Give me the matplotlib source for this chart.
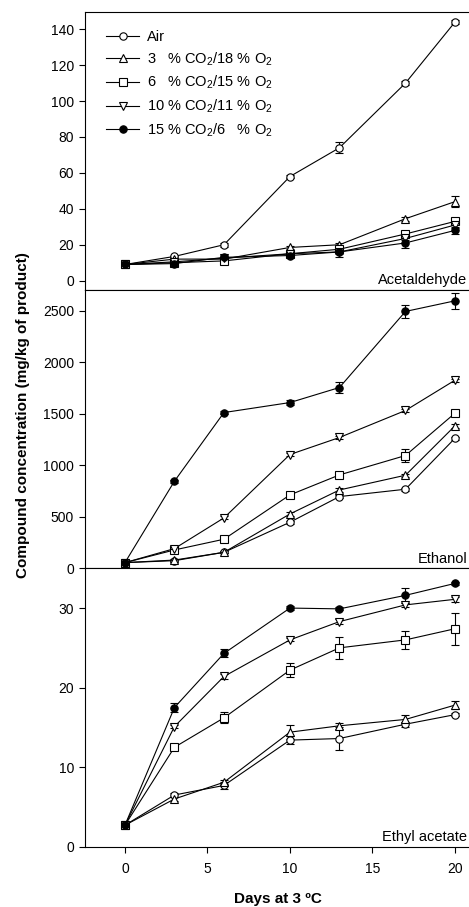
import numpy as np
import matplotlib.pyplot as plt

plt.rcParams['font.family'] = ['Liberation Sans', 'DejaVu Sans']
plt.rcParams['mathtext.fontset'] = 'custom'
plt.rcParams['mathtext.rm'] = 'Liberation Sans'
plt.rcParams['mathtext.it'] = 'Liberation Sans'

days = [0, 3, 6, 10, 13, 17, 20]
labels = ["Air",
          "3   % CO$_2$/18 % O$_2$",
          "6   % CO$_2$/15 % O$_2$",
          "10 % CO$_2$/11 % O$_2$",
          "15 % CO$_2$/6   % O$_2$"]
markers = ['o', '^', 's', 'v', 'o']
faces = ['white', 'white', 'white', 'white', 'black']

# acetaldehyde
acet = [[9, 13.5, 20, 58, 74, 110, 144],
        [9, 12, 12, 18.5, 20, 34.5, 44],
        [9, 10, 11, 15, 17.5, 26, 33],
        [9, 10.5, 12.5, 15, 16, 23.5, 31],
        [9, 9.5, 13, 14, 16, 21, 28]]
acet_err = [[0.5, 0.5, 1, 1, 3, 1, 1],
            [0.5, 0.5, 0.5, 1, 1, 1, 3],
            [0.5, 0.5, 0.5, 1, 1, 1, 1.5],
            [0.5, 0.5, 0.5, 1, 1, 1, 1.5],
            [0.5, 0.5, 0.5, 1, 3, 3, 2]]

# ethanol
etoh = [[55, 74, 155, 447, 696, 767, 1262],
        [55, 80, 155, 527, 760, 903, 1382],
        [55, 178, 282, 712, 906, 1094, 1505],
        [55, 191, 489, 1104, 1269, 1531, 1825],
        [55, 845, 1511, 1608, 1754, 2492, 2595]]
etoh_err = [[5, 10, 10, 15, 15, 15, 15],
            [5, 10, 10, 15, 15, 15, 20],
            [5, 10, 15, 30, 25, 60, 20],
            [5, 10, 15, 15, 15, 15, 15],
            [5, 15, 15, 20, 50, 60, 80]]

# ethyl acetate
etac = [[2.7, 6.5, 7.7, 13.4, 13.6, 15.4, 16.6],
        [2.7, 6.0, 8.1, 14.4, 15.2, 16.0, 17.8],
        [2.7, 12.5, 16.2, 22.2, 25.0, 26.0, 27.4],
        [2.7, 15.1, 21.4, 26.0, 28.3, 30.4, 31.1],
        [2.7, 17.5, 24.3, 30.0, 29.9, 31.6, 33.1]]
etac_err = [[0.1, 0.2, 0.4, 0.5, 1.4, 0.3, 0.2],
            [0.1, 0.2, 0.3, 0.9, 0.4, 0.5, 0.5],
            [0.1, 0.3, 0.7, 0.9, 1.4, 1.1, 2.0],
            [0.1, 0.2, 0.3, 0.2, 0.3, 0.3, 0.3],
            [0.1, 0.6, 0.5, 0.2, 0.2, 0.9, 0.2]]

panels = [(acet, acet_err, "Acetaldehyde", (-5.2, 149.6), np.arange(0, 141, 20)),
          (etoh, etoh_err, "Ethanol", (0, 2700), np.arange(0, 2501, 500)),
          (etac, etac_err, "Ethyl acetate", (0, 35), np.arange(0, 31, 10))]

fig = plt.figure(figsize=(4.69, 9.07), dpi=100)
left = 85 / 469.
bounds = [(12, 290), (290, 568.3), (568.3, 846.7)]

axes = []
for i, (data, err, name, ylim, yt) in enumerate(panels):
    top, bot = bounds[i]
    ax = fig.add_axes([left, 1 - bot / 907., 1 - left, (bot - top) / 907.])
    for j in range(5):
        ax.errorbar(days, data[j], yerr=err[j], color='black', lw=0.8,
                    marker=markers[j], mfc=faces[j], mec='black', ms=5.3,
                    mew=0.8, capsize=3, elinewidth=0.8, capthick=0.8,
                    label=labels[j])
    ax.set_xlim(-2.42, 20.85)
    ax.set_ylim(*ylim)
    ax.set_yticks(yt)
    ax.spines['right'].set_visible(False)
    ax.tick_params(direction='out', length=4, width=0.8, labelsize=10)
    ax.tick_params(axis='y', pad=4)
    ax.tick_params(axis='x', pad=7)
    ax.text(0.995, 0.01, name, transform=ax.transAxes, ha='right',
            va='bottom', fontsize=10.5)
    if i < 2:
        ax.tick_params(axis='x', bottom=False, labelbottom=False)
    axes.append(ax)

handles, labs = axes[0].get_legend_handles_labels()
handles = [h[0] for h in handles]
axes[0].legend(handles, labs, loc='upper left', frameon=False, fontsize=10.5,
               bbox_to_anchor=(0.02, 0.982), handlelength=2.3,
               labelspacing=0.43, handletextpad=0.5)

axes[2].set_xticks([0, 5, 10, 15, 20])
fig.text(278 / 469., 1 - 899 / 907., "Days at 3 ºC", fontsize=11,
         fontweight='bold', ha='center', va='center')
fig.text(0.049, 0.5424, "Compound concentration (mg/kg of product)",
         rotation=90, ha='center', va='center', fontsize=11,
         fontweight='bold')

fig.savefig("out.png", dpi=100)
